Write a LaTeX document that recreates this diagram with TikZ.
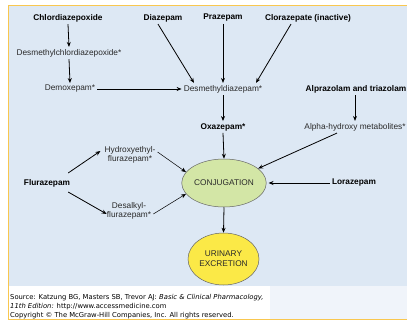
\documentclass[tikz,border=0pt]{standalone}
\usepackage{fontspec}
\setmainfont{Liberation Sans}
\newfontfamily\capfont{DejaVu Sans}
\usetikzlibrary{shapes.geometric,arrows.meta}
\definecolor{panel}{HTML}{DDE8F4}
\definecolor{foot}{HTML}{F0F4FA}
\definecolor{frame}{HTML}{F9C74F}
\definecolor{conjfill}{HTML}{D3E6A6}
\definecolor{urinfill}{HTML}{FBE947}
\definecolor{txt}{HTML}{2A2A2A}
\tikzset{
  drug/.style={font=\fontsize{8.3}{9}\selectfont\bfseries, text=black, inner sep=2pt},
  metab/.style={font=\fontsize{8.3}{9.4}\selectfont, text=txt, inner sep=2pt, align=center},
  oval/.style={ellipse, draw=gray!80!black, line width=0.5pt, inner sep=0pt, font=\fontsize{8.3}{10}\selectfont, align=center, text=txt},
  arr/.style={-{Stealth[length=5pt,width=4pt]}, line width=0.8pt, black},
  thinarr/.style={-{Stealth[length=5pt,width=4pt]}, line width=0.5pt, black},
  captext/.style={font=\capfont\fontsize{6.8}{7.5}\selectfont, anchor=west, inner sep=0pt, text=black}
}
\begin{document}
\begin{tikzpicture}[x=1pt,y=-1pt]
\useasboundingbox (0,0) rectangle (407,321);
% panels
\fill[panel] (9,6) rectangle (407,286);
\fill[foot] (9,286) rectangle (407,319);
\fill[white] (9,286) rectangle (270,319);
\draw[frame, line width=1.2pt] (407,5.6) -- (8.6,5.6) -- (8.6,319.4) -- (407,319.4);
% nodes
\node[drug] (chl) at (68,18) {Chlordiazepoxide};
\node[drug] (diaz) at (163,18) {Diazepam};
\node[drug] (praz) at (223,18) {Prazepam};
\node[drug] (clor) at (308,18) {Clorazepate (inactive)};
\node[metab] (dmc) at (69,53) {Desmethylchlordiazepoxide*};
\node[metab] (dem) at (70,89) {Demoxepam*};
\node[metab] (dmd) at (223,89) {Desmethyldiazepam*};
\node[drug] (oxa) at (223,127) {Oxazepam*};
\node[drug] (alp) at (356,89) {Alprazolam and triazolam};
\node[metab] (ahm) at (355,127) {Alpha-hydroxy metabolites*};
\node[oval, fill=conjfill, minimum width=72pt, minimum height=48pt] (conj) at (224,183) {CONJUGATION};
\node[drug] (lor) at (354,183) {Lorazepam};
\node[drug] (flur) at (47,183) {Flurazepam};
\node[metab] (hyd) at (130,155) {Hydroxyethyl-\\flurazepam*};
\node[metab] (des) at (129,211) {Desalkyl-\\flurazepam*};
\node[oval, fill=urinfill, minimum width=71pt, minimum height=52pt] (urin) at (223.5,259) {URINARY\\EXCRETION};
% connectors
\draw[arr] (chl.south) -- (dmc.north);
\draw[arr] (dmc.south) -- (dem.north);
\draw[arr] (dem.east) -- (dmd.west);
\draw[arr] ([xshift=-5pt]diaz.south) -- ([xshift=-29pt]dmd.north);
\draw[arr] (praz.south) -- (dmd.north);
\draw[arr] ([xshift=-17pt]clor.south) -- ([xshift=33pt]dmd.north);
\draw[arr] (dmd.south) -- (oxa.north);
\draw[arr] ([xshift=-1pt]alp.south) -- (ahm.north);
\draw[arr] ([xshift=-18pt]ahm.south) -- (conj.23);
\draw[arr] (lor.west) -- ([xshift=2pt]conj.east);
\draw[arr] (oxa.south) -- (conj.north);
\draw[arr] (conj.south) -- (urin.north);
\draw[arr] ([shift={(-4pt,4pt)}]flur.north east) -- ([shift={(-2pt,4pt)}]hyd.west);
\draw[arr] ([shift={(-4pt,-3pt)}]flur.south east) -- ([shift={(2pt,-3pt)}]des.west);
\draw[thinarr] ([shift={(0pt,3pt)}]hyd.east) -- (conj.164);
\draw[thinarr] ([shift={(0pt,-3pt)}]des.east) -- (conj.196);
% caption
\node[captext] (src) at (10,298) {Source: Katzung BG, Masters SB, Trevor AJ: \textit{Basic \& Clinical Pharmacology,}};
\node[captext] (ed) at (10,306.5) {\textit{11th Edition:} http://www.accessmedicine.com};
\node[captext] (copy) at (10,316) {Copyright © The McGraw-Hill Companies, Inc. All rights reserved.};
\end{tikzpicture}
\end{document}
